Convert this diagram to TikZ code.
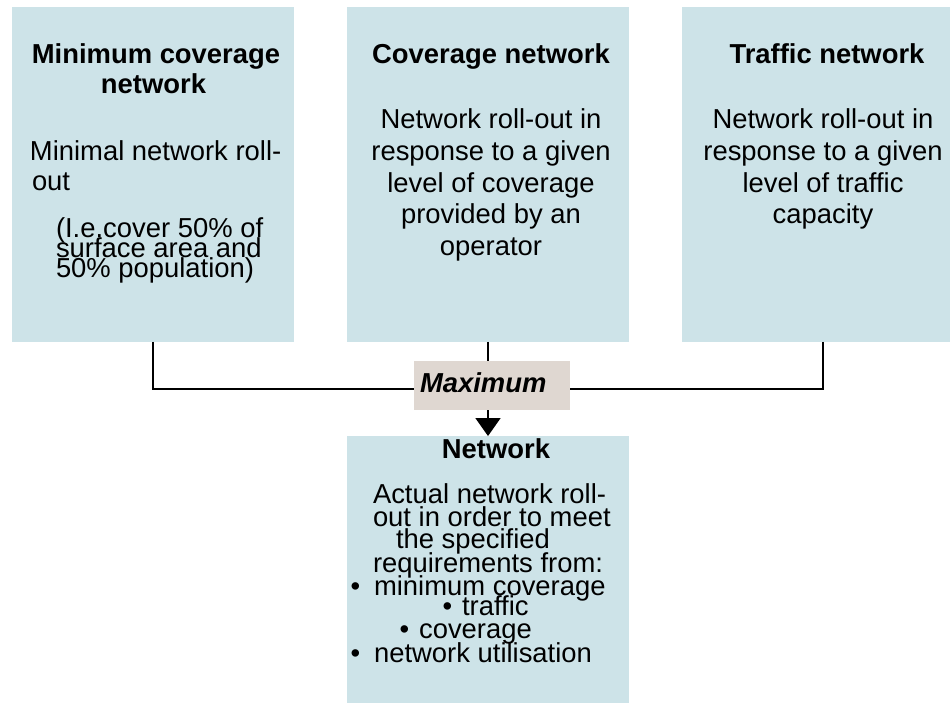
\documentclass[tikz,border=0pt]{standalone}
\usepackage{fontspec}
\setmainfont{Liberation Sans}
\usetikzlibrary{arrows.meta}
\definecolor{boxblue}{RGB}{205,227,232}
\definecolor{maxbeige}{RGB}{223,215,209}
\begin{document}
\begin{tikzpicture}[x=0.02cm,y=-0.02cm,
  panel/.style={fill=boxblue,draw=none,inner sep=0pt,outer sep=0pt},
  opbox/.style={fill=maxbeige,draw=none,inner sep=0pt,outer sep=0pt},
  txt/.style={inner sep=0pt,outer sep=0pt,font=\fontsize{15.6}{18}\selectfont},
  ttl/.style={txt,font=\fontsize{15.6}{18}\selectfont\bfseries},
  link/.style={line width=0.9pt,black},
  every node/.append style={}]
\useasboundingbox (0,0) rectangle (950,704);

% panels
\node[panel,minimum width=5.64cm,minimum height=6.7cm] (b1) at (153,174.5) {};
\node[panel,minimum width=5.64cm,minimum height=6.7cm] (b2) at (488,174.5) {};
\node[panel,minimum width=5.36cm,minimum height=6.7cm] (b3) at (816,174.5) {};
\node[panel,minimum width=5.64cm,minimum height=5.34cm] (b4) at (488,569.5) {};
\node[opbox,minimum width=3.12cm,minimum height=0.98cm] (mx) at (492,385.5) {};

% left panel text
\node[ttl,anchor=base] (t1a) at (156,63) {Minimum coverage};
\node[ttl,anchor=base] (t1b) at (153.5,93) {network};
\node[txt,anchor=base west] (t1c) at (30,160) {Minimal network roll-};
\node[txt,anchor=base west] (t1d) at (32,190) {out};
\node[txt,anchor=base west] (t1e) at (56,237) {(I.e.cover 50\% of};
\node[txt,anchor=base west] (t1f) at (56,257) {surface area and};
\node[txt,anchor=base west] (t1g) at (56,277) {50\% population)};

% middle panel text
\node[ttl,anchor=base] (t2a) at (491,63) {Coverage network};
\node[txt,anchor=base] (t2b) at (491,128) {Network roll-out in};
\node[txt,anchor=base] (t2c) at (491,160) {response to a given};
\node[txt,anchor=base] (t2d) at (491,192) {level of coverage};
\node[txt,anchor=base] (t2e) at (491,223) {provided by an};
\node[txt,anchor=base] (t2f) at (491,255) {operator};

% right panel text
\node[ttl,anchor=base] (t3a) at (827,63) {Traffic network};
\node[txt,anchor=base] (t3b) at (823,128) {Network roll-out in};
\node[txt,anchor=base] (t3c) at (823,160) {response to a given};
\node[txt,anchor=base] (t3d) at (823,192) {level of traffic};
\node[txt,anchor=base] (t3e) at (823,223) {capacity};

% operator label
\node[txt,anchor=base west,font=\fontsize{15.6}{18}\selectfont\bfseries\itshape] (mxt) at (420,392) {Maximum};

% result panel text
\node[ttl,anchor=base] (t4a) at (496,458) {Network};
\node[txt,anchor=base west] (t4b) at (373,503) {Actual network roll-};
\node[txt,anchor=base west] (t4c) at (373,526) {out in order to meet};
\node[txt,anchor=base west] (t4d) at (396,548) {the specified};
\node[txt,anchor=base west] (t4e) at (373,572) {requirements from:};
\node[txt,anchor=base west] (t4f) at (350.5,595) {•\hspace{0.28cm}minimum coverage};
\node[txt,anchor=base west] (t4g) at (442.5,615) {•\hspace{0.2cm}traffic};
\node[txt,anchor=base west] (t4h) at (399.5,638) {•\hspace{0.2cm}coverage};
\node[txt,anchor=base west] (t4i) at (350.5,662) {•\hspace{0.28cm}network utilisation};

% connectors
\coordinate (jl) at (153,389);
\coordinate (jr) at (823,389);
\draw[link] (b1.south) -- (jl) -- (jl -| mx.west);
\draw[link] (jr |- b3.south) -- (jr) -- (jr -| mx.east);
\draw[link] (b2.south) -- (b2.south |- mx.north);
\draw[link,-{Triangle[width=0.5cm,length=0.36cm]}] (b2.south |- mx.south) -- (b2.south |- b4.north);
\end{tikzpicture}
\end{document}
